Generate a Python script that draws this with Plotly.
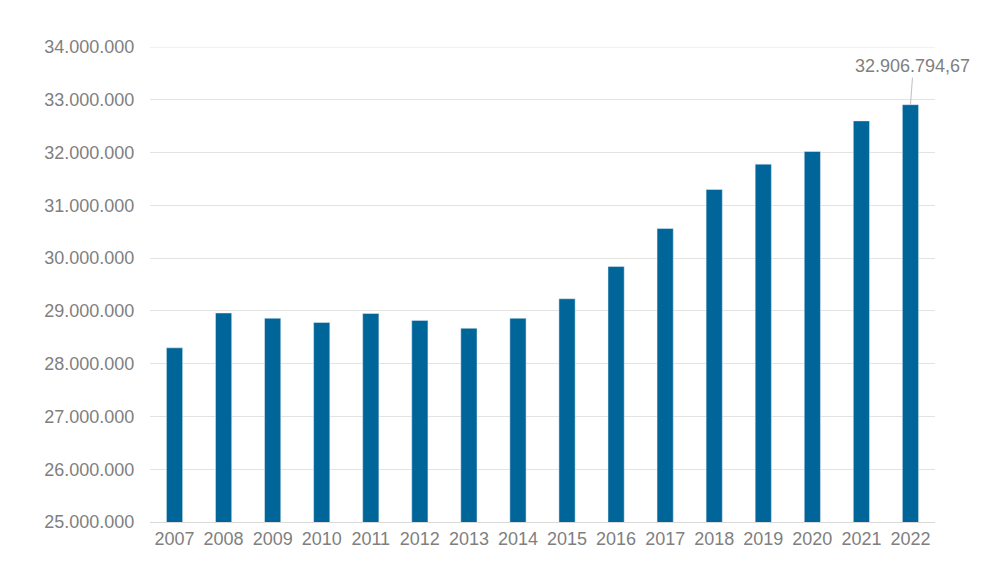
import plotly.graph_objects as go

years = ["2007", "2008", "2009", "2010", "2011", "2012", "2013", "2014",
         "2015", "2016", "2017", "2018", "2019", "2020", "2021", "2022"]
values = [28300000, 28960000, 28860000, 28780000, 28950000, 28820000, 28670000, 28860000,
          29230000, 29840000, 30560000, 31300000, 31780000, 32020000, 32600000, 32906794.67]
label_text = "32.906.794,67"
y_min, y_max, y_step = 25000000, 34000000, 1000000

gray = "#7f7f7f"
grid = "#e3e3e3"
fig = go.Figure()
fig.add_trace(go.Bar(x=years, y=values, marker=dict(color="#006598")))
fig.add_annotation(x=len(years) - 1, y=values[-1], xref="x", yref="y",
                   text=label_text, showarrow=True,
                   arrowhead=0, arrowwidth=1, arrowcolor="#bfbfbf",
                   ax=2, ay=-27, yanchor="bottom", standoff=0,
                   font=dict(family="Liberation Sans, Arial", size=18, color=gray))
fig.add_shape(type="line", xref="paper", x0=0, x1=1, yref="y", y0=y_max, y1=y_max,
              line=dict(color=grid, width=1), layer="below")
fig.update_layout(
    width=992, height=561,
    margin=dict(l=142, r=65, t=39, b=47),
    paper_bgcolor="white", plot_bgcolor="white",
    separators=",.",
    bargap=0.67,
    showlegend=False,
    font=dict(family="Liberation Sans, Arial", size=18, color=gray),
    xaxis=dict(type="category", showline=True, linecolor="#d9d9d9", linewidth=1,
               ticks="", showgrid=False, range=[-0.5, len(years) - 0.5]),
    yaxis=dict(range=[y_min, y_max], dtick=y_step, tickformat=",d",
               showgrid=True, gridcolor=grid, gridwidth=1, zeroline=False,
               ticks="outside", ticklen=11, tickcolor="rgba(0,0,0,0)"),
)
fig.write_html("out.html")
